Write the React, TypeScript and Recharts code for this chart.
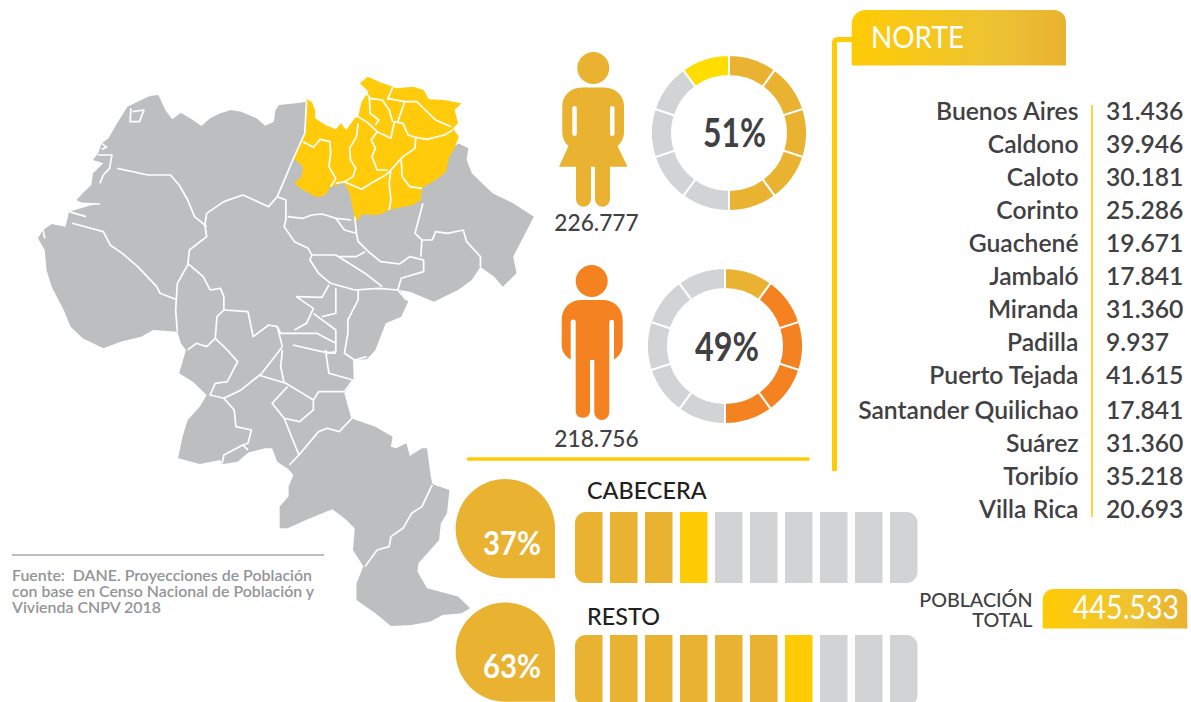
import React from "react";
import { PieChart, Pie, Cell, BarChart, Bar, XAxis, YAxis, Rectangle } from "recharts";

const municipalities = [
  "Buenos Aires", "Caldono", "Caloto", "Corinto", "Guachené", "Jambaló", "Miranda",
  "Padilla", "Puerto Tejada", "Santander Quilichao", "Suárez", "Toribío", "Villa Rica",
];
const population = [
  "31.436", "39.946", "30.181", "25.286", "19.671", "17.841", "31.360",
  "9.937", "41.615", "17.841", "31.360", "35.218", "20.693",
];
const rowY = [120, 153, 186, 219, 252, 285, 318, 351, 384, 419, 452, 485, 518];

// each ring and strip is ten equal tenths
const womenTenths = ["main", "main", "main", "main", "main", "empty", "empty", "empty", "empty", "high"];
const menTenths = ["main", "male", "male", "male", "male", "empty", "empty", "empty", "empty", "empty"];
const cabeceraTenths = ["main", "main", "main", "peak", "empty", "empty", "empty", "empty", "empty", "empty"];
const restoTenths = ["main", "main", "main", "main", "main", "main", "peak", "empty", "empty", "empty"];

const colors: Record<string, string> = {
  main: "#e9b231",
  male: "#f58220",
  high: "#ffdd00",
  peak: "#ffcb05",
  empty: "#d1d3d4",
};

const toRows = (tenths: string[]) => tenths.map((kind, i) => ({ id: i, kind, unit: 1 }));

// map outlines
const grayOutline =
  "890,125 860,130 810,135 800,150 795,185 770,197 745,175 700,155 670,150 640,160 610,175 585,198 560,180 525,158 500,178 480,150 460,105 435,108 400,125 370,140 340,190 315,235 295,250 285,280 270,300 300,310 270,340 265,375 240,400 222,420 240,430 285,430 200,455 195,480 190,500 150,492 125,510 110,535 130,570 135,630 150,680 185,750 205,800 240,835 300,865 350,845 410,830 445,810 515,815 525,850 540,870 520,940 560,965 600,1005 580,1040 545,1080 530,1130 517,1195 580,1212 640,1200 645,1213 690,1205 720,1178 770,1165 790,1165 805,1205 838,1228 852,1245 838,1280 838,1310 812,1340 812,1405 835,1405 900,1375 965,1348 1000,1375 1030,1405 1025,1470 1055,1520 1035,1570 1035,1620 1090,1660 1135,1698 1195,1695 1250,1685 1285,1665 1340,1660 1365,1645 1330,1610 1240,1585 1212,1535 1215,1510 1275,1440 1280,1390 1298,1360 1305,1290 1262,1275 1255,1270 1250,1245 1240,1165 1225,1165 1190,1188 1180,1150 1150,1165 1135,1160 1140,1130 1090,1100 1020,1075 1000,1000 1027,960 1025,900 1065,898 1090,870 1120,790 1165,770 1185,725 1160,690 1190,695 1260,725 1330,690 1370,660 1395,620 1435,650 1460,680 1500,640 1490,590 1520,530 1550,470 1490,430 1430,400 1370,340 1355,300 1360,265 1330,250 1200,400 1000,330 900,200";
const yellowOutline =
  "890,118 905,125 915,150 915,175 945,195 975,208 990,190 1005,210 1030,175 1040,170 1050,125 1070,95 1045,70 1068,50 1100,65 1140,80 1150,85 1200,80 1230,90 1245,118 1290,120 1340,130 1320,150 1330,190 1315,205 1332,230 1320,265 1305,290 1295,335 1265,360 1225,385 1222,420 1200,435 1150,445 1130,450 1100,465 1050,463 1035,485 1030,470 1015,400 1000,370 960,380 945,405 920,412 880,390 855,370 875,350 880,320 852,295 880,240 890,190";
const borders = [
  "880,245 910,262 930,238 958,245 960,280 955,320 975,355 960,380",
  "1040,190 1035,230 1015,265 1018,300 1033,325 1025,350 1000,365 975,370",
  "1000,365 1050,388 1085,365 1120,345 1135,330 1170,290 1205,265 1207,232 1240,238 1290,225 1315,210",
  "1135,330 1130,370 1135,420 1130,450",
  "1165,300 1168,350 1190,380 1225,385",
  "1125,330 1095,330 1080,290 1090,265 1078,240 1095,215 1135,235 1145,185 1170,190 1185,225 1205,232",
  "1040,170 1070,190 1095,215",
  "1072,110 1075,160 1100,180 1090,195",
  "1072,115 1110,120 1130,150 1140,185",
  "1125,115 1175,125 1155,185",
  "1175,125 1210,125 1235,150 1265,180 1310,200",
  "1060,95 1075,115",
  "1140,82 1125,120",
  "890,125 885,220 850,300 830,350 805,410 780,440 705,405 650,425 600,460 595,495 600,530 550,570 545,615 515,670 510,750 515,815",
  "340,325 430,345 495,345 520,375 545,420 565,470 600,500",
  "210,490 300,515 320,555 355,580 400,620 455,680 465,700 510,718",
  "805,410 830,420 830,480 825,500 855,545 895,565 905,585 900,600 925,640 960,670 1030,690 1100,685 1155,690 1180,720",
  "835,470 880,475 905,465 935,462 975,475 1000,510 1035,520 1040,545 1070,575 1105,605 1160,612 1190,590 1230,600 1230,635 1165,655 1155,690",
  "1030,470 1035,520",
  "975,475 1020,480",
  "905,585 975,585 1060,640 1110,680",
  "985,590 1035,590 1060,575",
  "1228,430 1205,520 1225,540 1222,590",
  "1225,540 1255,540 1265,515 1300,520 1345,510 1355,545 1395,590 1395,620",
  "545,610 590,650 610,690 640,685 650,710 650,750 630,770 625,835 600,860 570,850 545,870",
  "650,750 720,755 735,830 780,795 805,800 820,860",
  "625,835 660,870 690,905 660,965 625,970 610,1005 650,1015 680,1050 685,1100 730,1110 720,1150 705,1155 650,1185 645,1210",
  "705,1155 720,1170",
  "820,860 760,940 700,990 650,1015",
  "820,870 815,920 825,970",
  "750,945 830,970 870,995 910,1020 925,995 1000,995 1025,960",
  "835,980 790,1030 825,1075 870,1085 910,1050 910,1020",
  "825,1075 868,1185 840,1215",
  "868,1185 925,1115 950,1105 985,1115 1022,1075",
  "945,870 955,940 1025,960",
  "850,855 935,875 975,880",
  "805,800 815,820 860,820 920,820 975,850 975,875 950,880",
  "860,710 935,712 955,675",
  "860,710 910,745 890,790 855,810",
  "935,770 975,760 975,685",
  "910,760 975,810 975,850",
  "1040,690 1040,720 1010,780 1010,820 1000,880 1030,900 1065,890",
  "1255,1275 1225,1340 1195,1360 1170,1405 1135,1430 1130,1460 1095,1470 1060,1520",
  "380,145 378,185 405,185 418,150 385,155",
  "295,250 310,262 295,268",
  "285,285 325,285 318,325 300,345 290,370",
  "225,430 290,432",
  "200,455 250,470",
  "125,510 130,535",
];

const Ring = ({ tenths, left, top }: { tenths: string[]; left: number; top: number }) => (
  <div style={{ position: "absolute", left, top }}>
    <PieChart width={160} height={160} margin={{ top: 0, right: 0, bottom: 0, left: 0 }}>
      <Pie
        data={toRows(tenths)}
        dataKey="unit"
        cx="50%"
        cy="50%"
        innerRadius={57}
        outerRadius={78}
        startAngle={90}
        endAngle={-270}
        stroke="#ffffff"
        strokeWidth={2}
        isAnimationActive={false}
      >
        {tenths.map((kind, i) => (
          <Cell key={i} fill={colors[kind]} />
        ))}
      </Pie>
    </PieChart>
  </div>
);

const Strip = ({ tenths, top }: { tenths: string[]; top: number }) => (
  <div style={{ position: "absolute", left: 571, top }}>
    <BarChart width={350} height={71} data={toRows(tenths)} margin={{ top: 0, right: 0, bottom: 0, left: 0 }}>
      <XAxis dataKey="id" hide />
      <YAxis domain={[0, 1]} hide />
      <Bar
        dataKey="unit"
        barSize={27.5}
        isAnimationActive={false}
        shape={(props: any) => (
          <Rectangle
            {...props}
            fill={colors[tenths[props.index]]}
            radius={props.index === 0 ? [11, 0, 0, 11] : props.index === 9 ? [0, 11, 11, 0] : 0}
          />
        )}
      />
    </BarChart>
  </div>
);

const Drop = ({ top, label }: { top: number; label: string }) => (
  <g>
    <path
      d={`M505.3,${top} A49.6,49.6 0 0 1 555,${top + 49.6} V${top + 99.3} H505.3 A49.6,49.6 0 0 1 505.3,${top} Z`}
      fill="#e9b231"
    />
    <text x={483} y={top + 76} fill="#fff" fontSize={33} fontWeight={700} textLength={58} lengthAdjust="spacingAndGlyphs">
      {label}
    </text>
  </g>
);

export default function App() {
  return (
    <div
      style={{
        position: "absolute",
        left: 0,
        top: 0,
        width: 1191,
        height: 702,
        overflow: "hidden",
        background: "#fff",
        fontFamily: "Lato, sans-serif",
      }}
    >
      <svg width={1191} height={702} style={{ position: "absolute", left: 0, top: 0 }}>
        <defs>
          <linearGradient id="tab" x1="0" x2="1" y1="0" y2="0">
            <stop offset="0" stopColor="#ffcb05" />
            <stop offset="0.65" stopColor="#edc332" />
            <stop offset="1" stopColor="#e9b231" />
          </linearGradient>
        </defs>

        {/* map */}
        <g transform="translate(0,60) scale(0.3444,0.3333)">
          <polygon points={grayOutline} fill="#bcbec0" />
          <polygon points={yellowOutline} fill="#ffcb0b" />
          {borders.map((line, i) => (
            <polyline key={i} points={line} fill="none" stroke="#fff" strokeWidth={5} strokeLinejoin="round" />
          ))}
        </g>

        {/* source */}
        <line x1={12} x2={324} y1={555} y2={555} stroke="#a7a9ac" strokeWidth={1.3} />
        <g fill="#939598" fontSize={14.5} fontWeight={600}>
          <text x={12} y={581} textLength={300} lengthAdjust="spacingAndGlyphs" xmlSpace="preserve">Fuente:  DANE. Proyecciones de Población</text>
          <text x={12} y={597} textLength={302} lengthAdjust="spacingAndGlyphs">con base en Censo Nacional de Población y</text>
          <text x={12} y={613} textLength={149} lengthAdjust="spacingAndGlyphs">Vivienda CNPV 2018</text>
        </g>

        {/* woman */}
        <circle cx={593.3} cy={68} r={16} fill="#e9b231" />
        <path
          d="M582,87.5 H604 C616,87.5 624,96 624,106 V132 C624,138 621,143 617.5,146 L627.5,166.7 H610 V199.2 A7.5,7.5 0 0 1 595,199.2 V166.7 H591 V199.2 A7.5,7.5 0 0 1 576,199.2 V166.7 H559 L568.5,146 C565,143 562.3,138 562.3,132 V106 C562.3,96 570,87.5 582,87.5 Z"
          fill="#e9b231"
        />
        <rect x={572.3} y={106} width={4.5} height={30} rx={2.2} fill="#fff" />
        <rect x={610} y={106} width={4.5} height={30} rx={2.2} fill="#fff" />
        <text x={596.5} y={230.5} textAnchor="middle" fontSize={22.7} fontWeight={500} fill="#414042">226.777</text>

        {/* man */}
        <circle cx={591.7} cy={281} r={16} fill="#f58220" />
        <path
          d="M581,300 H603 C614,300 622.7,308 622.7,320 V345 C622.7,352 618,357 614,359.5 V322 A2.35,2.35 0 0 0 609.3,322 V412.5 A7.5,7.5 0 0 1 594.3,412.5 V360 H590 V412.5 A7.5,7.5 0 0 1 575.7,412.5 V322 A2.5,2.5 0 0 0 570.7,322 V359.5 C566,357 561.7,352 561.7,345 V320 C561.7,308 570,300 581,300 Z"
          fill="#f58220"
        />
        <text x={596.5} y={447} textAnchor="middle" fontSize={22.7} fontWeight={500} fill="#414042">218.756</text>

        {/* ring labels */}
        <text x={703} y={147} fontSize={40} fontWeight={700} fill="#414042" textLength={63} lengthAdjust="spacingAndGlyphs">51%</text>
        <text x={695} y={361} fontSize={40} fontWeight={700} fill="#414042" textLength={64} lengthAdjust="spacingAndGlyphs">49%</text>

        {/* rules */}
        <line x1={468.5} x2={808} y1={459} y2={459} stroke="#ffcb05" strokeWidth={3.6} strokeLinecap="round" />
        <path d="M834.5,469 V43 Q834.5,39.5 838,39.5 H855" fill="none" stroke="#ffcb05" strokeWidth={5} strokeLinecap="round" />

        {/* zone tab */}
        <path d="M851.7,65.5 V24 A14,14 0 0 1 865.7,10 H1054 A12,12 0 0 1 1066,22 V65.5 Z" fill="url(#tab)" />
        <text x={871} y={48} fontSize={30} fill="#fff" textLength={93} lengthAdjust="spacingAndGlyphs">NORTE</text>

        {/* municipalities */}
        <g fontSize={24.7} fontWeight={600} fill="#414042">
          {municipalities.map((name, i) => (
            <text key={name} x={1078.5} y={rowY[i]} textAnchor="end">{name}</text>
          ))}
          {population.map((value, i) => (
            <text key={i} x={1106} y={rowY[i]}>{value}</text>
          ))}
        </g>
        <line x1={1092} x2={1092} y1={105} y2={517} stroke="#ffcb05" strokeWidth={1.6} />

        {/* urban / rural */}
        <Drop top={479} label="37%" />
        <Drop top={602.4} label="63%" />
        <text x={587} y={499} fontSize={23.4} fontWeight={500} fill="#231f20">CABECERA</text>
        <text x={587} y={625} fontSize={23.4} fontWeight={500} fill="#231f20">RESTO</text>

        {/* total */}
        <g fontSize={19.7} fontWeight={500} fill="#414042" textAnchor="end">
          <text x={1032.5} y={607}>POBLACIÓN</text>
          <text x={1032.5} y={626.5}>TOTAL</text>
        </g>
        <path d="M1042.7,628.5 V600 A11,11 0 0 1 1053.7,589 H1177 A10,10 0 0 1 1187.3,599 V628.5 Z" fill="url(#tab)" />
        <text x={1073} y={619} fontSize={32} fill="#fff" textLength={106} lengthAdjust="spacingAndGlyphs">445.533</text>
      </svg>

      <Ring tenths={womenTenths} left={648.5} top={53.3} />
      <Ring tenths={menTenths} left={644.5} top={266.3} />
      <Strip tenths={cabeceraTenths} top={512} />
      <Strip tenths={restoTenths} top={635} />
    </div>
  );
}
